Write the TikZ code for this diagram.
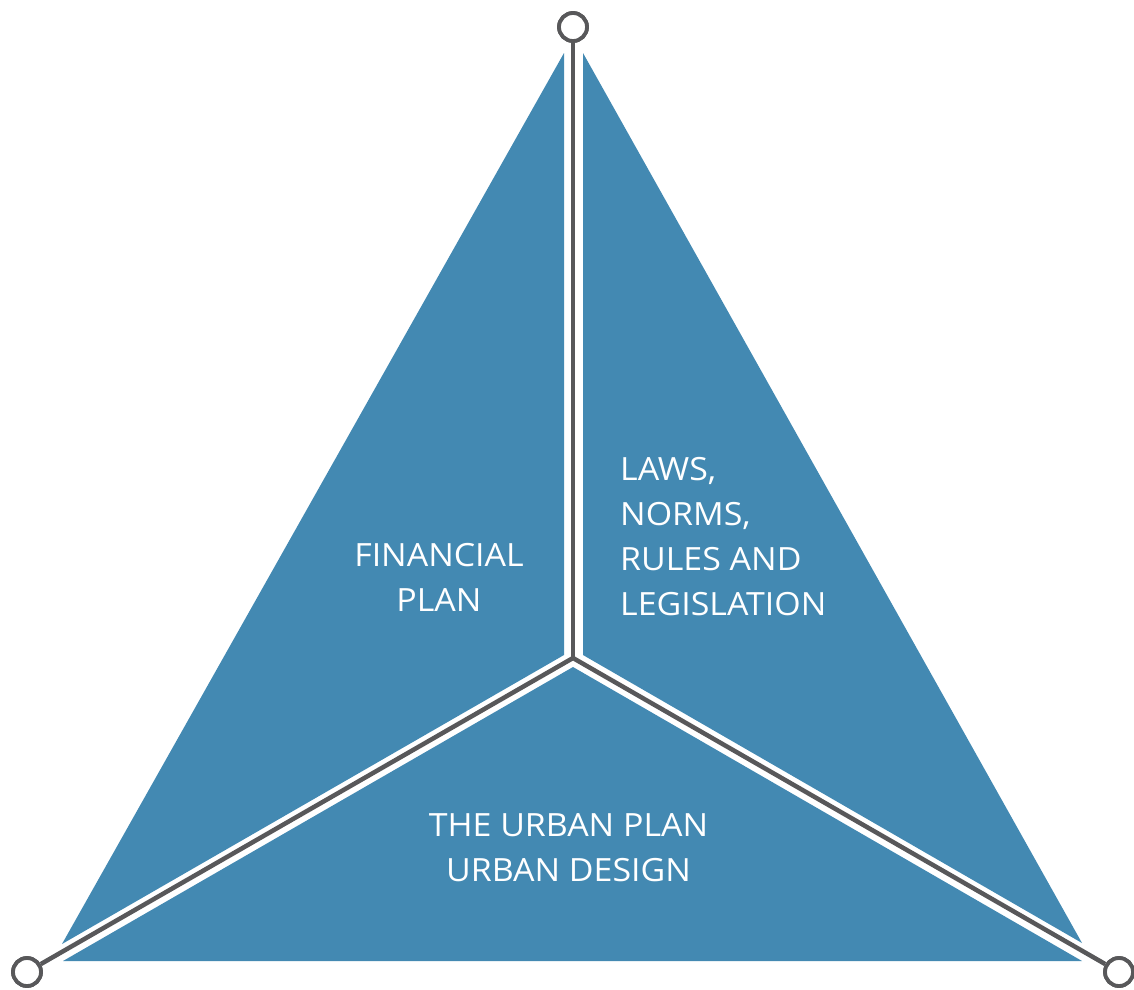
\documentclass[tikz,border=0pt]{standalone}
\usepackage{fontspec}
\setmainfont{Open Sans}[FakeStretch=1.06]
\definecolor{tblue}{RGB}{67,137,178}
\definecolor{tgray}{RGB}{88,88,90}
\begin{document}
\begin{tikzpicture}[x=1pt,y=-1pt,
  piece/.style={fill=tblue,draw=none},
  axis/.style={draw=tgray,line width=4.5pt,line join=miter},
  endcircle/.style={circle,draw=tgray,line width=3.8pt,fill=white,minimum size=28pt,inner sep=0pt},
  label/.style={text=white,inner sep=0pt,font=\fontsize{32}{45}\selectfont}]
\useasboundingbox (0,0) rectangle (1134,989);
% blue pieces
\fill[piece] (564,53) -- (564,655) -- (62,944) -- cycle;
\fill[piece] (583,53) -- (583,655) -- (1082,943) -- cycle;
\fill[piece] (573,667) -- (63,961) -- (1082,961) -- cycle;
% junction and end points
\coordinate (c) at (573,658);
\node[endcircle] (top) at (573,27) {};
\node[endcircle] (bl) at (27,972) {};
\node[endcircle] (br) at (1119,972) {};
\draw[axis] (top.south) -- (c);
\draw[axis] (bl) -- (c) -- (br);
\node[endcircle] at (top) {};
\node[endcircle] at (bl) {};
\node[endcircle] at (br) {};
% labels
\node[label,align=center,anchor=north] (fin) at (439,543) {FINANCIAL\\PLAN};
\node[label,align=left,anchor=north west] (laws) at (620,457) {LAWS,\\NORMS,\\RULES AND\\LEGISLATION};
\node[label,align=center,anchor=north] (urb) at (568.5,813) {THE URBAN PLAN\\URBAN DESIGN};
\end{tikzpicture}
\end{document}
